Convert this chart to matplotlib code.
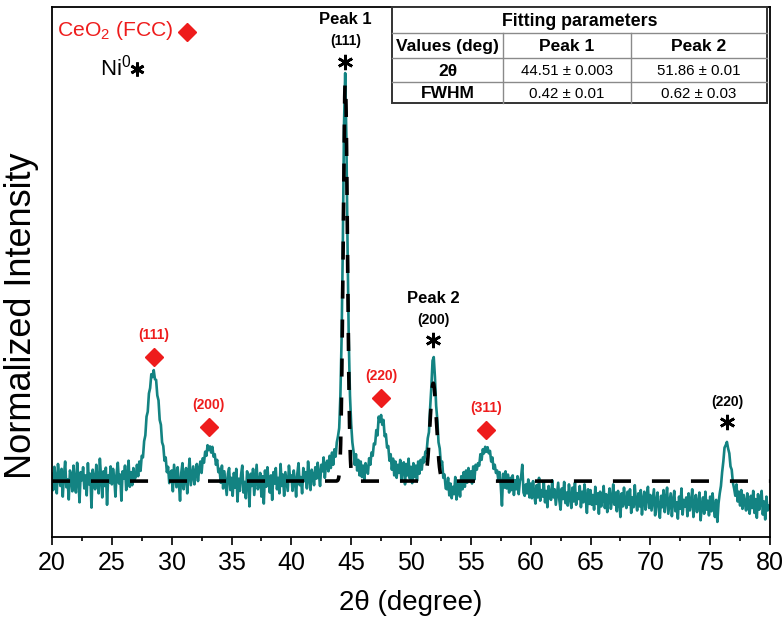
import numpy as np
import matplotlib
matplotlib.use('Agg')
import matplotlib.pyplot as plt
from matplotlib.patches import Rectangle
from matplotlib.lines import Line2D

plt.rcParams['font.family'] = ['Liberation Sans', 'DejaVu Sans']
plt.rcParams['mathtext.fontset'] = 'custom'
plt.rcParams['mathtext.rm'] = 'Liberation Sans'

# XRD scan, 20-80 deg in 0.1 deg steps (counts, max = 1000), one row per degree
two_theta_start, two_theta_step = 20.0, 0.1
counts = [
    18, -22, 35, 5, -30, 42, 10, -12, 30, -38,          # 20
    15, 48, -15, 4, -45, 26, 12, -25, 38, -5,
    -28, 45, 8, -52, 22, 2, 34, -18, 14, -35,
    44, -8, 18, -65, 28, 6, -20, 40, -2, -30,
    55, 10, -40, 24, -12, 33, -58, 14, -4, 36,
    -8, 30, 8, -38, 20, 45, -6, 16, -48, 24,            # 25
    6, 38, -22, 12, 50, -14, 22, -10, 32, 4,
    10, 40, 12, 48, 25, 62, 58, 98, 112, 158,
    170, 215, 228, 262, 255, 272, 250, 248, 210, 198,
    150, 138, 95, 86, 50, 58, 22, 35, -5, 20,
    26, -25, 40, 12, -15, 34, -4, -48, 20, 44,          # 30
    -20, 10, 32, -30, 18, 55, -10, 14, 36, -8,
    22, 42, 0, 30, 48, 20, 56, 45, 72, 62,
    88, 76, 85, 70, 84, 60, 66, 40, 52, 22,
    30, -4, 38, -18, 24, -6, -34, 18, 32, -22,
    8, -36, 20, -16, 30, -50, 6, -24, 16, 38,           # 35
    -28, -2, -42, 24, 10, -62, 18, -12, 30, -34,
    4, 40, -20, -8, 20, -38, 12, -55, 26, -14,
    34, 0, -28, 14, -46, 22, -6, 32, -20, 8,
    -30, 42, -12, 16, -36, 22, -2, -24, 38, 6,
    14, -24, 26, 2, -38, 18, 44, -10, 10, -30,          # 40
    32, 0, 22, -18, 48, 8, -22, 28, 14, -10,
    34, 6, 45, 18, -12, 40, 24, 58, 8, 42,
    50, 24, 62, 32, 70, 40, 78, 60, 95, 110,
    130, 210, 350, 570, 870, 1000, 840, 570, 345, 210,
    140, 95, 72, 40, 66, 26, 52, 14, 48, 10,            # 45
    38, 4, 44, 30, 18, 56, 40, 70, 62, 92,
    90, 125, 112, 158, 145, 162, 138, 150, 110, 115,
    82, 86, 50, 66, 28, 55, 14, 48, 8, 40,
    20, 52, 0, 38, 46, -8, 42, 14, 55, 6,
    35, -5, 44, 10, 38, 0, 48, 18, 52, 28,              # 50
    58, 46, 72, 70, 105, 120, 180, 230, 295, 304,
    255, 185, 150, 95, 80, 40, 48, 8, 16, -18,
    -20, 8, -35, -6, -42, -14, -32, 10, -45, -22,
    -2, -38, 12, -20, 22, -14, 26, -4, 32, 0,
    24, -6, 36, 4, 40, 28, 44, 38, 66, 52,              # 55
    78, 68, 84, 72, 83, 68, 74, 48, 58, 30,
    40, 20, 26, 2, 22, -10, -60, 18, -16, 24,
    -18, 16, -28, 8, -22, 14, -34, 2, -20, 12,
    -32, 0, 10, 40, -28, -36, -8, -30, 4, -40,
    -6, -42, 0, -34, -55, -10, -40, 8, -48, -22,        # 60
    -38, -2, -52, -24, -64, -12, -36, -46, 2, -40,
    -20, -58, -30, -4, -48, -70, -18, -44, -2, -54,
    -28, -60, -8, -40, -66, -16, -50, -4, -58, -30,
    -44, -12, -64, -26, -52, -8, -40, -78, -20, -56,
    -22, -58, -34, -70, -14, -56, -30, -80, -26, -62,   # 65
    -44, -12, -66, -32, -76, -40, -18, -68, -46, -8,
    -58, -28, -74, -24, -48, -88, -30, -62, -16, -54,
    -66, -26, -58, -20, -78, -40, -64, -10, -52, -72,
    -30, -62, -22, -82, -46, -26, -70, -38, -14, -66,
    -34, -72, -46, -20, -84, -52, -28, -70, -90, -36,   # 70
    -64, -22, -76, -44, -16, -80, -56, -30, -86, -48,
    -24, -74, -52, -92, -38, -68, -18, -82, -46, -62,
    -40, -86, -30, -72, -54, -20, -88, -58, -34, -76,
    -56, -28, -96, -62, -40, -80, -26, -70, -48, -84,
    -38, -74, -30, -66, -88, -46, -100, -54, -30, -12,  # 75
    22, 48, 82, 88, 96, 80, 68, 36, 28, -4,
    -18, -36, -8, -50, -26, -60, -22, -68, -34, -54,
    -72, -30, -62, -80, -36, -66, -24, -78, -44, -90,
    -32, -70, -52, -24, -82, -50, -94, -38, -72, -60,
    -66,                                                # 80
]

# Ni0 fit (values from the fitting table)
fit_center = [44.51, 51.86]
fit_center_err = ['0.003', '0.01']
fit_fwhm = [0.42, 0.62]
fit_fwhm_err = ['0.01', '0.03']
fit_height = [0.98, 0.24]

# reflection labels
ceo2_pos = [28.5, 33.1, 47.5, 56.3]
ceo2_hkl = ['(111)', '(200)', '(220)', '(311)']
ceo2_label_y = [0.358, 0.186, 0.257, 0.179]
ni_pos = [44.51, 51.86, 76.4]
ni_hkl = ['(111)', '(200)', '(220)']
ni_label_y = [1.078, 0.395, 0.194]
ni_peak_name = ['Peak 1', 'Peak 2', '']

counts = np.array(counts, dtype=float)
tt = two_theta_start + two_theta_step * np.arange(len(counts))
inten = counts / counts.max()

xf = np.linspace(20, 80, 3001)
fit = np.zeros_like(xf)
for c, w, h in zip(fit_center, fit_fwhm, fit_height):
    fit += h * np.exp(-4 * np.log(2) * (xf - c) ** 2 / w ** 2)

teal = '#138382'
red = '#ee1c1c'

fig = plt.figure(figsize=(7.83, 6.19), dpi=100)
ax = fig.add_axes([52 / 783, 1 - 537 / 619, 718 / 783, 530 / 619])

ax.plot(tt, inten, color=teal, lw=1.9, zorder=2)
ax.plot(xf, fit, color='black', lw=2.6, ls=(0, (5.0, 5.8)), zorder=3)

ax.set_xlim(20, 80)
ax.set_ylim(-0.137, 1.162)
ax.set_xticks(np.arange(20, 81, 5))
ax.set_xticks(np.arange(22.5, 80, 5), minor=True)
ax.set_yticks([])
ax.tick_params(axis='x', which='major', direction='out', length=6, width=1.2, pad=4,
               labelsize=18)
ax.tick_params(axis='x', which='minor', direction='out', length=3, width=1.2)
for sp in ax.spines.values():
    sp.set_linewidth(1.3)

fig.text(411 / 783, 1 - 603 / 619, '2θ (degree)', ha='center', va='center', fontsize=20)
fig.text(22 / 783, 1 - 316 / 619, 'Normalized Intensity', rotation=90, ha='center',
         va='center', fontsize=26)

# CeO2 reflections
for x, hkl, y in zip(ceo2_pos, ceo2_hkl, ceo2_label_y):
    ax.text(x, y, hkl, color=red, fontsize=10, fontweight='bold', ha='center', va='center')
    ax.plot(x, y - 0.054, marker='D', ms=9.5, color=red, mec=red, zorder=4)

# Ni reflections
for x, hkl, y, name in zip(ni_pos, ni_hkl, ni_label_y, ni_peak_name):
    ax.text(x, y, hkl, color='black', fontsize=10, fontweight='bold', ha='center', va='center')
    ax.plot(x, y - 0.050, marker=(6, 2, 0), ms=11, mew=1.9, color='black', zorder=4)
    if name:
        ax.text(x, y + 0.053, name, color='black', fontsize=12, fontweight='bold',
                ha='center', va='center')

# phase key
fig.text(57 / 783, 1 - 31 / 619, r'$\mathregular{CeO_2}$ (FCC)', color=red, fontsize=15.2,
         ha='left', va='center')
fig.add_artist(Line2D([187 / 783], [1 - 32 / 619], marker='D', ms=9, color=red,
                      transform=fig.transFigure))
fig.text(100 / 783, 1 - 68 / 619, r'$\mathregular{Ni^0}$', color='black', fontsize=16,
         ha='left', va='center')
fig.add_artist(Line2D([137 / 783], [1 - 69 / 619], marker=(6, 2, 0), ms=10, mew=2.0,
                      color='black', transform=fig.transFigure))

# fitting parameter table
def fx(px):
    return px / 783

def fy(py):
    return 1 - py / 619

cols = [392, 503, 631, 767]
rows = [7, 33, 58, 82, 103]
fig.add_artist(Rectangle((fx(cols[0]), fy(rows[-1])), fx(cols[-1]) - fx(cols[0]),
                         fy(rows[0]) - fy(rows[-1]), transform=fig.transFigure,
                         facecolor='white', edgecolor='#333333', lw=1.4, zorder=5))
for r in rows[1:-1]:
    fig.add_artist(Line2D([fx(cols[0]), fx(cols[-1])], [fy(r), fy(r)], color='#8a8a8a',
                          lw=1.0, transform=fig.transFigure, zorder=6))
for c in cols[1:-1]:
    fig.add_artist(Line2D([fx(c), fx(c)], [fy(rows[1]), fy(rows[-1])], color='#8a8a8a',
                          lw=1.0, transform=fig.transFigure, zorder=6))

def cell(ci, ri, s, bold):
    xc = (cols[ci] + cols[ci + 1]) / 2
    yc = (rows[ri] + rows[ri + 1]) / 2 + 1
    fig.text(fx(xc), fy(yc), s, ha='center', va='center',
             fontsize=12.5 if bold else 10.8,
             fontweight='bold' if bold else 'normal', zorder=7)

fig.text(fx((cols[0] + cols[-1]) / 2), fy((rows[0] + rows[1]) / 2 + 1), 'Fitting parameters',
         ha='center', va='center', fontsize=12.8, fontweight='bold', zorder=7)
cell(0, 1, 'Values (deg)', True)
cell(1, 1, 'Peak 1', True)
cell(2, 1, 'Peak 2', True)
cell(0, 2, '2θ', True)
cell(0, 3, 'FWHM', True)
for i in range(2):
    cell(i + 1, 2, f'{fit_center[i]:.2f} ± {fit_center_err[i]}', False)
    cell(i + 1, 3, f'{fit_fwhm[i]:.2f} ± {fit_fwhm_err[i]}', False)

fig.savefig('out.png', dpi=100)
